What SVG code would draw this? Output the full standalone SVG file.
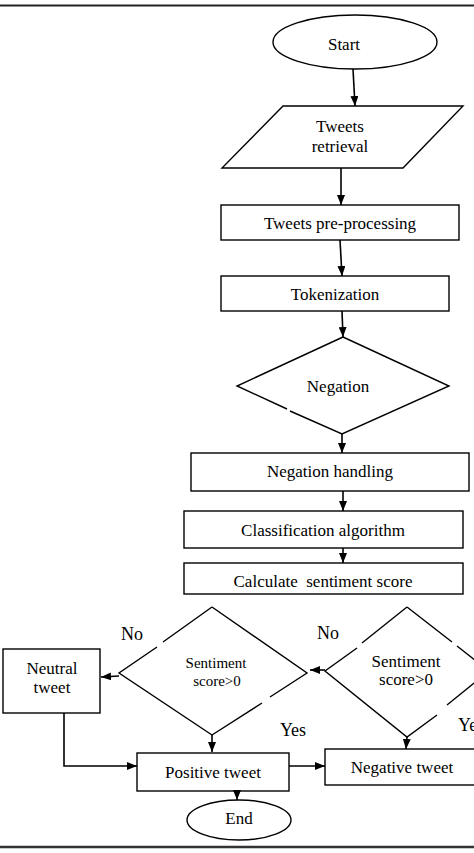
<svg xmlns="http://www.w3.org/2000/svg" width="474" height="853" viewBox="0 0 474 853">
<style>
.s{fill:#fff;stroke:#000;stroke-width:1.4}
.e{fill:none;stroke:#000;stroke-width:1.4}
.c{fill:none;stroke:#000;stroke-width:1.6}
text{font-family:"Liberation Serif","Times New Roman",serif;font-size:17px;fill:#000;text-anchor:middle}
.sm{font-size:15px}
.lb{font-size:18px}
</style>
<defs>
<marker id="ah" viewBox="0 0 10 8" refX="10" refY="4" markerWidth="10" markerHeight="8" markerUnits="userSpaceOnUse" orient="auto">
<path d="M0,0 L10,4 L0,8 z" fill="#000"/>
</marker>
</defs>
<rect width="474" height="853" fill="#fff"/>
<line x1="0" y1="5.5" x2="474" y2="5.5" stroke="#222" stroke-width="2"/>
<line x1="0" y1="847" x2="474" y2="847" stroke="#333" stroke-width="2.5"/>

<g id="start"><ellipse class="s" cx="355" cy="42" rx="82" ry="27"/><text x="344" y="50">Start</text></g>
<g id="retrieval"><polygon class="s" points="283,106 463,106 403,168 222,168"/><text x="340" y="132">Tweets</text><text x="340" y="152">retrieval</text></g>
<g id="preprocessing"><rect class="s" x="221" y="205" width="238" height="35"/><text x="340" y="229">Tweets pre-processing</text></g>
<g id="tokenization"><rect class="s" x="221" y="276" width="228" height="35"/><text x="335" y="300">Tokenization</text></g>
<g id="negation"><path class="e" d="M343,337 L449,386 L342,434 L290,411 M287,409 L237,386 L343,337"/><text x="338" y="392">Negation</text></g>
<g id="negation-handling"><rect class="s" x="191" y="453" width="278" height="38"/><text x="330" y="477">Negation handling</text></g>
<g id="classification"><rect class="s" x="184" y="511" width="279" height="37"/><text x="323" y="536">Classification algorithm</text></g>
<g id="calculate"><rect class="s" x="184" y="563" width="279" height="31"/><text x="323" y="587" xml:space="preserve" style="white-space:pre">Calculate  sentiment score</text></g>
<g id="decision-left"><path class="e" d="M212,607 L307,673 L270,697 M262,703 L212,735 L119,673 L157,647 M163,642 L212,607"/><text class="sm" x="216" y="668">Sentiment</text><text class="sm" x="217" y="686">score&gt;0</text></g>
<g id="decision-right"><path class="e" d="M407,607 L452,642 M457,646 L489,671 L447,705 M437,715 L407,737 L325,671 L357,648 M362,643 L407,607"/><text x="406" y="667">Sentiment</text><text x="406" y="685">score&gt;0</text></g>
<g id="neutral"><rect class="s" x="3" y="649" width="97" height="64"/><text x="52" y="674">Neutral</text><text x="52" y="693">tweet</text></g>
<g id="positive"><rect class="s" x="137" y="753" width="152" height="38"/><text x="213" y="778">Positive tweet</text></g>
<g id="negative"><rect class="s" x="325" y="749" width="160" height="36"/><text x="402" y="773">Negative tweet</text></g>
<g id="end"><ellipse class="s" cx="239" cy="820" rx="52" ry="20"/><text x="239" y="824">End</text></g>

<g id="labels">
<text class="lb" x="132" y="640">No</text>
<text class="lb" x="328" y="639">No</text>
<text class="lb" x="293" y="736">Yes</text>
<text class="lb" x="458" y="731" style="text-anchor:start">Yes</text>
</g>

<g id="connectors">
<line class="c" x1="353" y1="69" x2="355" y2="106" marker-end="url(#ah)"/>
<line class="c" x1="341" y1="168" x2="341" y2="205" marker-end="url(#ah)"/>
<line class="c" x1="340" y1="240" x2="342" y2="276" marker-end="url(#ah)"/>
<line class="c" x1="342" y1="311" x2="343" y2="337" marker-end="url(#ah)"/>
<line class="c" x1="342" y1="434" x2="342" y2="453" marker-end="url(#ah)"/>
<line class="c" x1="343" y1="491" x2="343" y2="511" marker-end="url(#ah)"/>
<line class="c" x1="343" y1="548" x2="343" y2="563" marker-end="url(#ah)"/>
<line class="c" x1="325" y1="670" x2="310" y2="670" marker-end="url(#ah)"/>
<line class="c" x1="119" y1="676" x2="101" y2="677" marker-end="url(#ah)"/>
<line class="c" x1="212" y1="735" x2="212" y2="752" marker-end="url(#ah)"/>
<polyline class="c" points="64,713 64,766 137,766" marker-end="url(#ah)"/>
<line class="c" x1="289" y1="766" x2="325" y2="766" marker-end="url(#ah)"/>
<line class="c" x1="407" y1="737" x2="406" y2="749" marker-end="url(#ah)"/>
<line class="c" x1="237" y1="791" x2="237" y2="800" marker-end="url(#ah)"/>
</g>
</svg>
